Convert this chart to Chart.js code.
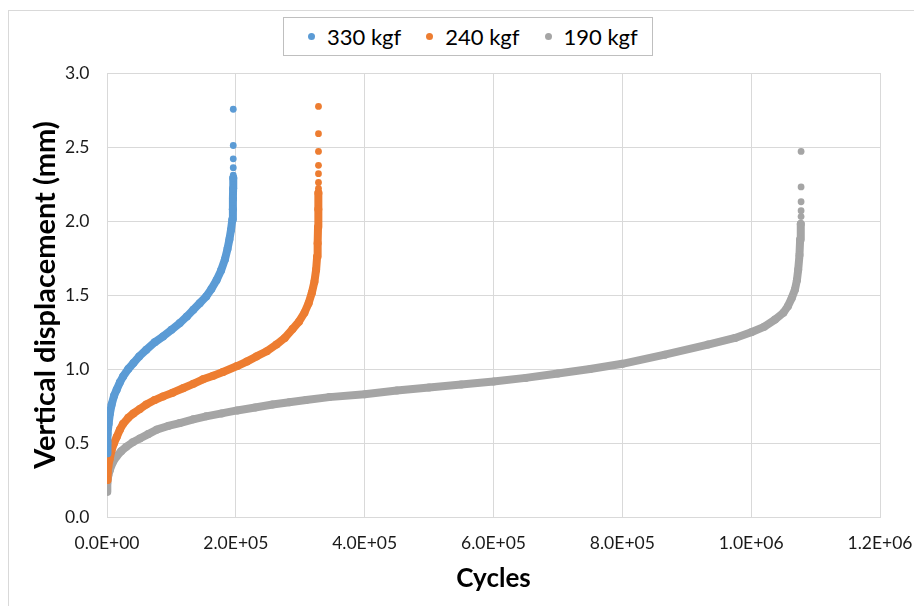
<!DOCTYPE html>
<html>
<head>
<meta charset="utf-8">
<title>Vertical displacement vs cycles</title>
<script src="https://cdn.jsdelivr.net/npm/chart.js@4/dist/chart.umd.min.js"></script>
<style>
    html, body { margin: 0; padding: 0; background: #fff; overflow: hidden; }
    #wrap { position: relative; width: 914px; height: 606px; }
    #frame {
        position: absolute; left: 8px; top: 10px; width: 940px; height: 640px;
        border: 1px solid #d9d9d9; box-sizing: border-box;
    }
    #chart { position: absolute; left: 0; top: 0; }
    #legend {
        position: absolute; left: 283px; top: 17px; width: 370px; height: 39px;
        border: 1px solid #bfbfbf; box-sizing: border-box; background: #fff;
        display: flex; align-items: center; padding-left: 24px; white-space: nowrap;
        font-family: Lato, sans-serif; font-size: 22px; color: #000; z-index: 2;
    }
    #legend .item { display: flex; align-items: center; margin-right: 25px; flex: none; }
    #legend .item:last-child { margin-right: 0; }
    #legend .dot { width: 7px; height: 7px; border-radius: 50%; margin-right: 12px; }
</style>
</head>
<body>
<div id="wrap">
    <div id="frame"></div>
    <canvas id="chart" width="914" height="606"></canvas>
    <div id="legend"></div>
</div>
<script>
// Series labels and colours
const seriesLabels = ['330 kgf', '240 kgf', '190 kgf'];
const seriesColors = ['#5B9BD5', '#ED7D31', '#A5A5A5'];

// 330 kgf: dense band [cycles, mm] and the sparse points at failure
const band330 = [
    [0, 0.43], [500, 0.50], [1000, 0.56], [2500, 0.63], [4500, 0.70], [7200, 0.76],
    [11000, 0.82], [15000, 0.86], [20000, 0.91], [25000, 0.95], [33000, 1.00],
    [41000, 1.04], [50000, 1.085], [61000, 1.13], [74000, 1.18], [87000, 1.22],
    [100000, 1.265], [113000, 1.31], [124000, 1.355], [134000, 1.40], [144000, 1.445],
    [154000, 1.49], [162000, 1.54], [170000, 1.60], [177000, 1.665], [183000, 1.74],
    [187000, 1.81], [190000, 1.875], [192500, 1.94], [194600, 2.01], [195300, 2.08],
    [195600, 2.15], [195800, 2.22], [196000, 2.29]
];
const tail330 = [[196000, 2.31], [196000, 2.36], [196000, 2.42], [196000, 2.51], [196000, 2.755]];

// 240 kgf
const band240 = [
    [0, 0.25], [1000, 0.30], [2000, 0.34], [4000, 0.39], [7000, 0.45], [11000, 0.50],
    [15000, 0.54], [20000, 0.59], [25000, 0.63], [33000, 0.67], [41000, 0.70],
    [51000, 0.73], [61000, 0.76], [74000, 0.79], [87000, 0.815], [102000, 0.84],
    [118000, 0.87], [134000, 0.90], [149000, 0.93], [165000, 0.955], [180000, 0.98],
    [202000, 1.02], [217000, 1.05], [232000, 1.085], [248000, 1.12], [263000, 1.165],
    [276000, 1.21], [288000, 1.27], [298000, 1.32], [306500, 1.38], [313000, 1.445],
    [318000, 1.515], [322000, 1.59], [324600, 1.67], [326200, 1.76], [327000, 1.85],
    [327600, 1.96], [328000, 2.08], [328200, 2.19]
];
const tail240 = [[328300, 2.22], [328300, 2.26], [328300, 2.32], [328300, 2.376], [328300, 2.47], [328300, 2.59], [328300, 2.774]];

// 190 kgf
const band190 = [
    [0, 0.17], [500, 0.23], [2000, 0.28], [4600, 0.32], [9000, 0.37], [15000, 0.41],
    [22000, 0.445], [30000, 0.475], [40000, 0.505], [51000, 0.53], [64000, 0.56],
    [77000, 0.59], [95000, 0.615], [113000, 0.635], [134000, 0.66], [154000, 0.68],
    [178000, 0.70], [202000, 0.72], [230000, 0.74], [257000, 0.76], [283000, 0.775],
    [309000, 0.79], [345000, 0.81], [400000, 0.83], [450000, 0.855], [500000, 0.875],
    [550000, 0.895], [600000, 0.915], [650000, 0.94], [700000, 0.97], [750000, 1.00],
    [800000, 1.035], [866000, 1.097], [933000, 1.165], [975000, 1.21], [1000000, 1.248],
    [1020000, 1.285], [1037000, 1.334], [1050000, 1.38], [1057000, 1.424], [1063000, 1.48],
    [1068000, 1.537], [1071000, 1.60], [1073000, 1.67], [1075000, 1.77], [1076000, 1.875],
    [1077000, 1.98]
];
const tail190 = [[1077500, 2.03], [1077500, 2.07], [1077500, 2.13], [1077500, 2.23], [1077500, 2.47]];

// Axis ticks
const xTicks = [0, 200000, 400000, 600000, 800000, 1000000, 1200000];
const yTicks = [0, 0.5, 1.0, 1.5, 2.0, 2.5, 3.0];

const bands = [band330, band240, band190];
const tails = [tail330, tail240, tail190];

function toPoints(arr) {
    return arr.map(p => ({ x: p[0], y: p[1] }));
}

// Excel style scientific label, e.g. 2.0E+05
function sciLabel(value) {
    const parts = Number(value).toExponential(1).split('e');
    const sign = parts[1][0] === '-' ? '-' : '+';
    const exp = parts[1].replace(/[+-]/, '').padStart(2, '0');
    return parts[0] + 'E' + sign + exp;
}

// HTML legend
const legendEl = document.getElementById('legend');
legendEl.innerHTML = seriesLabels.map((label, i) => `
    <div class="item"><span class="dot" style="background:${seriesColors[i]}"></span><span>${label}</span></div>
`).join('');

const datasets = [];
seriesLabels.forEach((label, i) => {
    datasets.push({
        label: label,
        data: toPoints(bands[i]),
        showLine: true,
        borderColor: seriesColors[i],
        backgroundColor: seriesColors[i],
        borderWidth: 8,
        borderCapStyle: 'round',
        borderJoinStyle: 'round',
        pointRadius: 4,
        pointBorderWidth: 0,
        order: i
    });
    datasets.push({
        label: label + ' tail',
        data: toPoints(tails[i]),
        showLine: false,
        backgroundColor: seriesColors[i],
        borderColor: seriesColors[i],
        pointRadius: 3.4,
        pointBorderWidth: 0,
        order: i
    });
});

Chart.defaults.font.family = 'Lato, sans-serif';

new Chart(document.getElementById('chart'), {
    type: 'scatter',
    data: { datasets: datasets },
    options: {
        responsive: false,
        animation: false,
        layout: { padding: { top: 73, left: 0, right: 34, bottom: 0 } },
        plugins: {
            legend: { display: false },
            tooltip: { enabled: false }
        },
        scales: {
            x: {
                type: 'linear',
                min: 0,
                max: 1200000,
                afterBuildTicks: scale => { scale.ticks = xTicks.map(v => ({ value: v })); },
                afterFit: scale => {
                    scale.height = 89;
                    scale.paddingLeft = 0;
                    scale.paddingRight = 0;
                },
                grid: { color: '#d9d9d9', drawTicks: false },
                border: { color: '#d9d9d9' },
                ticks: {
                    padding: 16,
                    color: '#1a1a1a',
                    font: { size: 17.5 },
                    maxRotation: 0,
                    callback: value => sciLabel(value)
                },
                title: {
                    display: true,
                    text: 'Cycles',
                    color: '#000',
                    font: { size: 26, weight: 'bold', lineHeight: 1.2 },
                    padding: { top: 0, bottom: 12 }
                }
            },
            y: {
                type: 'linear',
                min: 0,
                max: 3,
                afterBuildTicks: scale => { scale.ticks = yTicks.map(v => ({ value: v })); },
                afterFit: scale => { scale.width = 107; },
                grid: { color: '#d9d9d9', drawTicks: false },
                border: { color: '#d9d9d9' },
                ticks: {
                    padding: 17.5,
                    color: '#1a1a1a',
                    font: { size: 17.5 },
                    callback: value => Number(value).toFixed(1)
                },
                title: {
                    display: true,
                    text: 'Vertical displacement (mm)',
                    color: '#000',
                    font: { size: 29, weight: 'bold', lineHeight: 1.2 },
                    padding: { top: 28, bottom: 0 }
                }
            }
        }
    }
});
</script>
</body>
</html>
